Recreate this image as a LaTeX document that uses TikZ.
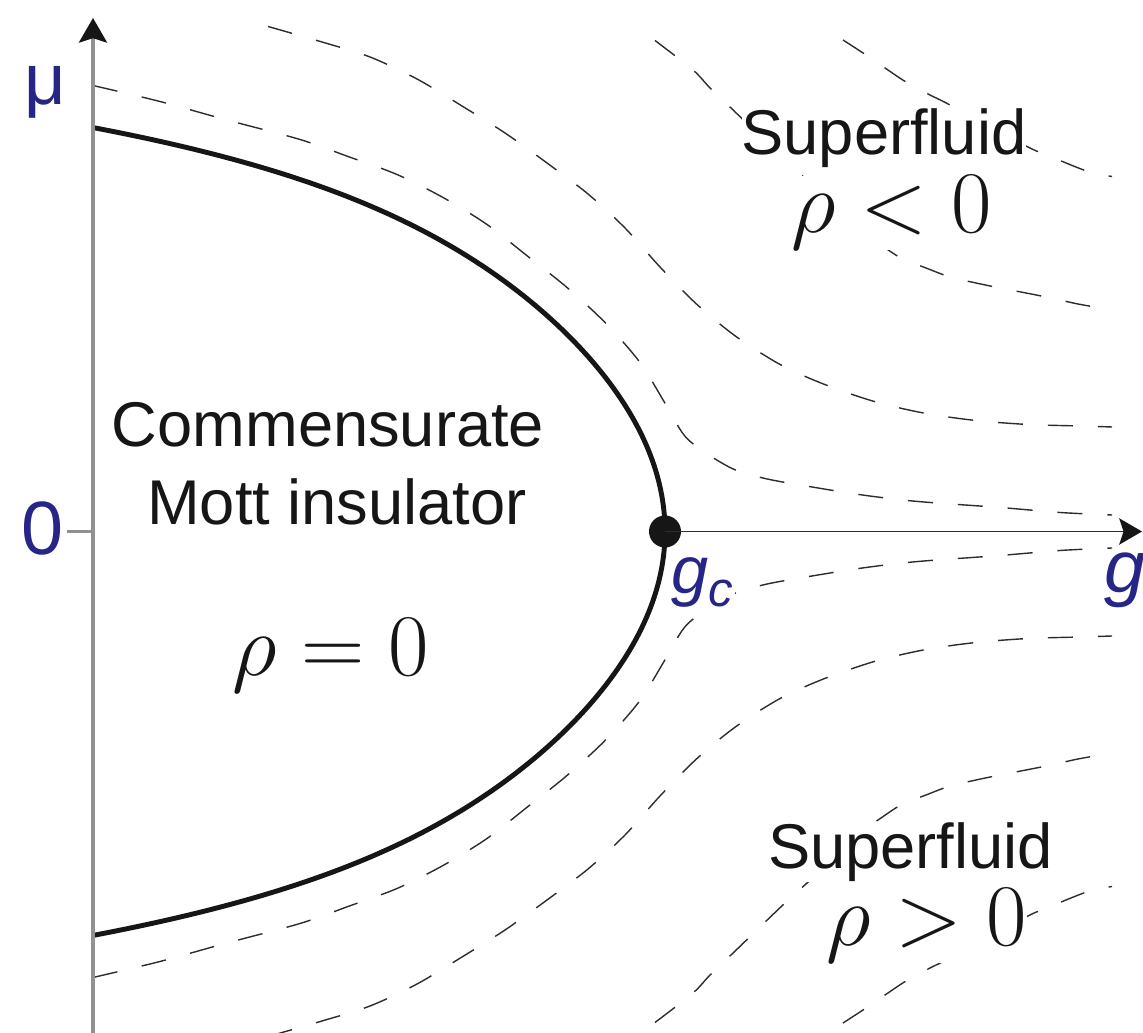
\RequirePackage{fix-cm}
\documentclass[tikz,border=0pt]{standalone}
\usepackage[no-math]{fontspec}
\newfontfamily\arialfam{Liberation Sans}
\usetikzlibrary{arrows.meta}
\definecolor{lblue}{RGB}{38,38,135}
\definecolor{axgrey}{RGB}{145,145,145}
\definecolor{dgrey}{RGB}{45,45,45}
\definecolor{ink}{RGB}{22,22,22}
\newcommand\flowlines{%
  \draw[flowline] plot[smooth] coordinates {(93,446) (160,430) (225,412) (300,392) (348,375) (397,357) (443,334) (487,307) (528,275) (567,244) (605,209) (640,169) (667,125) (688,92) (730,64) (765,53) (815,44) (866,36) (918,30) (1000,24) (1060,19) (1112,16.5)};
  \draw[flowline] plot[smooth] coordinates {(268,505) (322,489.5) (370,474.5) (417,452.5) (462,425.5) (505,398.5) (547,368.5) (588,337.5) (625,303.5) (660,264.5) (697,227) (736,195) (781,166.5) (826,146.5) (876,129.5) (926,118) (976,111) (1028,107) (1080,105.5) (1112,104.5)};
  \draw[flowline] plot[smooth] coordinates {(655,491) (693,461.5) (710,443.5) (731,423.5) (785,371.5) (818,341.5) (856,304.5) (881,286.5) (901,273.5) (926,263.5) (950,254.5) (976,248.5) (1000,243.5) (1026,238.5) (1051,233.5) (1078,227.5) (1112,221.5)};
  \draw[flowline] plot[smooth] coordinates {(843,491.5) (863,478.5) (885,463.5) (906,449.5) (930,436.5) (950,426.5) (1028,384.5) (1043,378.5) (1066,368.5) (1091,359) (1112,355)};
}
\begin{document}
\begin{tikzpicture}[x=0.02cm,y=0.02cm,
  flowline/.style={draw=dgrey, line width=0.8pt, dash pattern=on 0.5cm off 0.5cm},
  boundary/.style={draw=ink, line width=2.8pt},
  muaxis/.style={draw=axgrey, line width=2pt, -{Stealth[length=14pt,width=16pt,inset=2.5pt,ink]}},
  gaxis/.style={draw=dgrey, line width=1pt, -{Stealth[length=13pt,width=15pt,inset=2.5pt,ink]}},
  tickline/.style={draw=axgrey, line width=1.2pt},
  word/.style={font=\arialfam\fontsize{36}{43}\selectfont, text=ink, inner sep=0pt},
  mlabel/.style={font=\fontsize{50}{60}\selectfont, text=ink, inner sep=0pt},
  axlabel/.style={font=\arialfam\fontsize{41}{50}\selectfont, text=lblue, inner sep=0pt},
]
\useasboundingbox (0,-501.5) rectangle (1143,531.5);
% RG flow lines (upper half and its mirror image)
\begin{scope}\flowlines\end{scope}
\begin{scope}[yscale=-1]\flowlines\end{scope}
% phase boundary
\draw[boundary] plot[domain=-1:1, samples=241, variable=\u, smooth] ({665-409.3*\u*\u-163*(\u*\u)^4}, {404*\u});
% axes
\coordinate (ybot) at (93,-501.5);
\coordinate (ytop) at (93,513.5);
\coordinate (zero) at (93,0);
\coordinate (tickend) at (67,0);
\coordinate (xend) at (1142,0);
\draw[muaxis] (ybot) -- (ytop);
\draw[tickline] (tickend) -- (zero);
\node[circle, fill=ink, minimum size=0.64cm, inner sep=0] (gc) at (665,0) {};
\draw[gaxis] (gc.center) -- (xend);
% axis labels
\node[axlabel, anchor=base west] (mu) at (24,426.5) {μ};
\node[axlabel, font=\arialfam\fontsize{43}{50}\selectfont, anchor=base] (zerolbl) at (43,-23.5) {0};
\node[axlabel, anchor=base west, font=\arialfam\fontsize{42}{50}\selectfont] (glbl) at (1104,-61.5) {\itshape g};
\node[axlabel, anchor=base west, fill=white, inner sep=1pt, font=\arialfam\fontsize{38}{46}\selectfont] (gclbl) at (669,-62.5) {\itshape g\raisebox{-7.4pt}{\fontsize{28}{32}\selectfont c}};
% region labels
\node[word, anchor=base] (comm) at (328,84.5) {Commensurate};
\node[word, anchor=base] (mott) at (337,6.5) {Mott insulator};
\node[mlabel, anchor=base] (rhozero) at (331,-144.5) {$\rho=0$};
\node[word, anchor=base, fill=white] (sfup) at (884,376.5) {Superfluid};
\node[mlabel, anchor=base, fill=white] (rhoneg) at (892,298.5) {$\rho<0$};
\node[word, anchor=base, fill=white] (sflow) at (910.5,-337) {Superfluid};
\node[mlabel, anchor=base, fill=white] (rhopos) at (926.5,-414.5) {$\rho>0$};
\end{tikzpicture}
\end{document}
